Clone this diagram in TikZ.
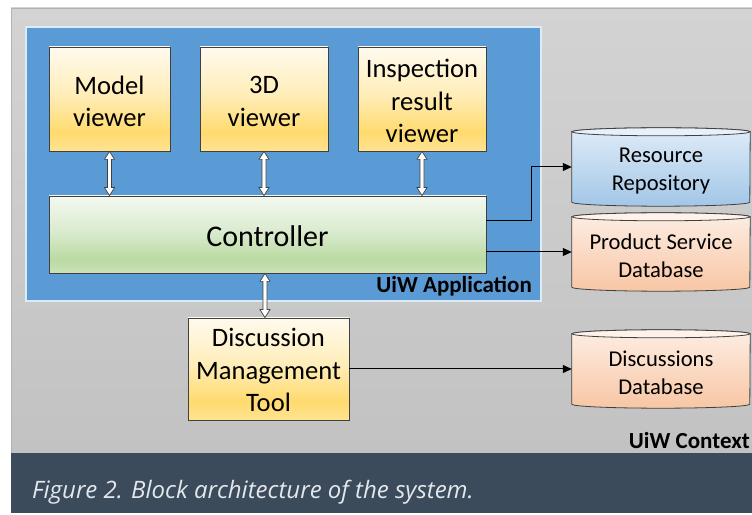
\documentclass[tikz,border=0pt]{standalone}
\usepackage{fontspec}
\setmainfont{Carlito}
\newfontfamily\capfont{Open Sans}
\usetikzlibrary{arrows.meta,calc}
\pgfdeclarelayer{back}
\pgfdeclarelayer{bg}
\pgfsetlayers{back,bg,main}
\definecolor{gtop}{HTML}{D3D3D3}
\definecolor{gbot}{HTML}{C2C2C2}
\definecolor{gline}{HTML}{B2B2B2}
\definecolor{band}{HTML}{3B4B5B}
\definecolor{capcol}{HTML}{E4E8EC}
\definecolor{appblue}{HTML}{5B9BD5}
\definecolor{appedge}{HTML}{DDEBF7}
\definecolor{boxline}{HTML}{404040}
\definecolor{ytop}{HTML}{FFFAEE}
\definecolor{ymid}{HTML}{FFEDB8}
\definecolor{ydeep}{HTML}{FFDA6E}
\definecolor{ybot}{HTML}{FFE391}
\definecolor{gtopc}{HTML}{F3F8F0}
\definecolor{gmidc}{HTML}{DAEBCF}
\definecolor{gdeepc}{HTML}{BADAA2}
\definecolor{gbotc}{HTML}{C9E2B8}
\definecolor{btop}{HTML}{DFECF8}
\definecolor{bbot}{HTML}{A2C6E7}
\definecolor{bend}{HTML}{E8F1FA}
\definecolor{ptop}{HTML}{FDEEE4}
\definecolor{pbot}{HTML}{F8C6A4}
\definecolor{pend}{HTML}{FEF2EA}
\pgfdeclareverticalshading{yelshade}{100bp}{color(0bp)=(ybot); color(25bp)=(ybot); color(34bp)=(ydeep); color(52bp)=(ymid); color(75bp)=(ytop); color(100bp)=(ytop)}
\pgfdeclareverticalshading{grnshade}{100bp}{color(0bp)=(gbotc); color(25bp)=(gbotc); color(34bp)=(gdeepc); color(52bp)=(gmidc); color(75bp)=(gtopc); color(100bp)=(gtopc)}
\newcommand\hollowarrow[2]{%
  \draw[harrow] let \p1=(#1), \p2=(#2) in
    (\x1,\y1) -- ({\x1+5pt},{\y1-8pt}) -- ({\x1+2pt},{\y1-8pt}) -- ({\x1+2pt},{\y2+8pt})
    -- ({\x1+5pt},{\y2+8pt}) -- (\x1,\y2) -- ({\x1-5pt},{\y2+8pt}) -- ({\x1-2pt},{\y2+8pt})
    -- ({\x1-2pt},{\y1-8pt}) -- ({\x1-5pt},{\y1-8pt}) -- cycle;}
\newcommand\dbcyl[4]{%
  \begin{pgfonlayer}{bg}
  \shade[top color=#2,bottom color=#3,draw=boxline,line width=0.8pt]
    let \p1=(#1.south west), \p2=(#1.north east) in
    (\x1,{\y2-4pt}) -- (\x1,{\y1+4pt})
    arc[start angle=180,end angle=360,x radius=89pt,y radius=4pt]
    -- (\x2,{\y2-4pt})
    arc[start angle=0,end angle=180,x radius=89pt,y radius=4pt] -- cycle;
  \draw[fill=#4,draw=boxline,line width=0.8pt]
    let \p1=(#1.north) in (\x1,{\y1-4pt}) ellipse[x radius=89pt,y radius=4pt];
  \end{pgfonlayer}}
\begin{document}
\begin{tikzpicture}[x=1pt,y=1pt,
  box/.style={draw=boxline,line width=0.8pt,inner sep=0pt},
  yel/.style={box,shading=yelshade},
  grn/.style={box,shading=grnshade},
  ytext/.style={align=center,inner sep=0pt,font=\fontsize{26.6}{32.4}\selectfont},
  gtext/.style={align=center,inner sep=0pt,font=\fontsize{30}{36}\selectfont},
  db/.style={inner sep=0pt,minimum width=178,minimum height=78},
  dtext/.style={align=center,inner sep=0pt,font=\fontsize{22.6}{28}\selectfont},
  lbl/.style={inner sep=0pt,font=\bfseries\fontsize{23}{28}\selectfont},
  capstyle/.style={inner sep=0pt,text=capcol,font=\capfont\itshape\fontsize{24}{28}\selectfont},
  harrow/.style={fill=white,draw=boxline,line width=0.7pt,line join=miter},
  conn/.style={draw=black,line width=1pt,-{Triangle[length=9pt,width=8pt]}}]
\useasboundingbox (0,0) rectangle (752,514);
\begin{pgfonlayer}{back}
\fill[white] (0,0) rectangle (752,514);
\shade[top color=gtop,bottom color=gbot] (11,61) rectangle (752,506);
\draw[gline,line width=0.8pt] (11,61) -- (11,506) -- (752,506);
\fill[band] (11,1) rectangle (752,61);
\fill[appblue] (26,213) rectangle (541,487);
\draw[appedge,line width=1.2pt] (26,213) rectangle (541,487);
\end{pgfonlayer}
\node[capstyle,anchor=base west] (cap) at (32,16) {Figure 2. Block architecture of the system.};
\node[lbl,anchor=base east] (app) at (532,221) {UiW Application};
\node[lbl,anchor=base east] (ctx) at (750,65) {UiW Context};
% boxes
\node[yel,minimum width=121,minimum height=104] (mv) at (109.5,415) {};
\node[ytext] (mvt) at ([yshift=-2.5pt]mv.center) {Model\\viewer};
\node[yel,minimum width=128,minimum height=104] (tv) at (264,415) {};
\node[ytext] (tvt) at ([yshift=-2.5pt]tv.center) {3D\\viewer};
\node[yel,minimum width=128,minimum height=104] (iv) at (422,415) {};
\node[ytext] (ivt) at ([yshift=-2pt]iv.center) {Inspection\\result\\viewer};
\node[grn,minimum width=437,minimum height=77] (ctrl) at (267.5,279.5) {};
\node[gtext] (ctrlt) at ([yshift=-2pt]ctrl.center) {Controller};
\node[yel,minimum width=161,minimum height=102] (dmt) at (268.5,145) {};
\node[ytext] (dmtt) at ([yshift=-1pt]dmt.center) {Discussion\\Management\\Tool};
% databases
\node[db] (rr) at (661,347) {};
\node[db] (ps) at (661,262) {};
\node[db] (dd) at (661,145) {};
\dbcyl{rr}{btop}{bbot}{bend}
\dbcyl{ps}{ptop}{pbot}{pend}
\dbcyl{dd}{ptop}{pbot}{pend}
\node[dtext] (rrt) at ([yshift=-4pt]rr.center) {Resource\\Repository};
\node[dtext] (pst) at ([yshift=-4pt]ps.center) {Product Service\\Database};
\node[dtext] (ddt) at ([yshift=-4pt]dd.center) {Discussions\\Database};
% double arrows
\coordinate (ax) at (265,0);
\coordinate (bendpt) at (531,0);
\hollowarrow{mv.south}{mv.south |- ctrl.north}
\hollowarrow{tv.south}{tv.south |- ctrl.north}
\hollowarrow{iv.south}{iv.south |- ctrl.north}
\hollowarrow{ctrl.south -| ax}{dmt.north -| ax}
% connectors
\draw[conn] ([yshift=13.5pt]ctrl.east) -| (bendpt |- rr.west) -- (rr.west);
\draw[conn] (ctrl.east |- ps.west) -- (ps.west);
\draw[conn] (dmt.east) -- (dmt.east -| dd.west);
\end{tikzpicture}
\end{document}
